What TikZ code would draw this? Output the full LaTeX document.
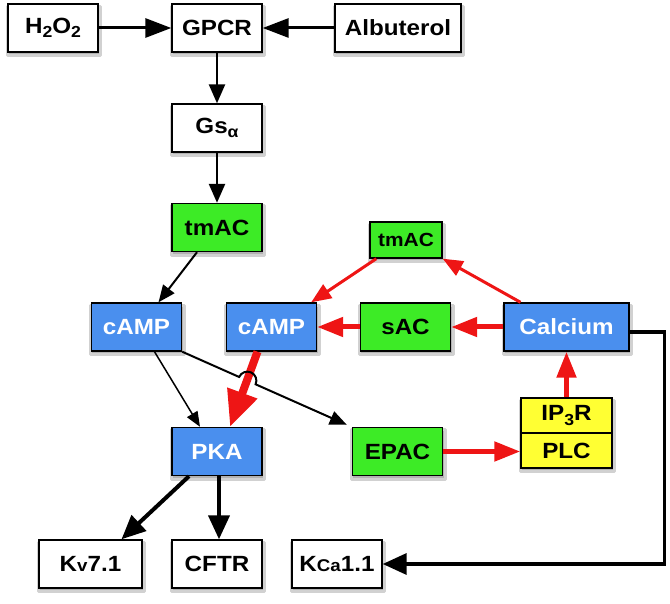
\documentclass[tikz,border=0pt]{standalone}
\usepackage{fontspec}
\setmainfont{Liberation Sans}[FakeStretch=1.1]
\usetikzlibrary{arrows.meta,calc,backgrounds}
\definecolor{gbox}{HTML}{3DEB26}
\definecolor{bbox}{HTML}{4A8FEE}
\definecolor{ybox}{HTML}{FFFF33}
\definecolor{rarr}{HTML}{EE1515}
\newcommand{\lowsub}[1]{\raisebox{-4.5pt}{\fontsize{16}{16}\selectfont #1}}
\begin{document}
\begin{tikzpicture}[x=1pt,y=-1pt,
 box/.style={draw=black, line width=1.4pt, fill=white, minimum width=90pt, minimum height=48pt, inner sep=0pt,
   font=\fontsize{22}{26}\selectfont\bfseries},
 gbx/.style={box, fill=gbox},
 bbx/.style={box, fill=bbox, text=white},
 ybx/.style={box, fill=ybox},
 shd/.style={fill=black!30, draw=black!18, line width=3pt, line join=round},
 ka/.style={draw=black, line width=3pt, -{Triangle[length=26pt,width=19pt]}},
 kb/.style={draw=black, line width=2.5pt, -{Triangle[length=19pt,width=16pt]}},
 kc/.style={draw=black, line width=2pt, -{Triangle[length=17pt,width=14pt]}},
 kd/.style={draw=black, line width=1.5pt, -{Triangle[length=15pt,width=12pt]}},
 ke/.style={draw=black, line width=4pt, -{Triangle[length=24pt,width=21pt]}},
 ra/.style={draw=rarr, line width=8pt, -{Triangle[length=36pt,width=30pt]}},
 rb/.style={draw=rarr, line width=5pt, -{Triangle[length=26pt,width=19pt]}},
 rc/.style={draw=rarr, line width=3pt, -{Triangle[length=20pt,width=16pt]}},
]
\useasboundingbox (0,0) rectangle (670,604);
% nodes
\node[box] (h2o2) at (53,28) {H\lowsub{2}O\lowsub{2}};
\node[box] (gpcr) at (217,28) {GPCR};
\node[box, minimum width=126pt] (alb) at (398,28) {Albuterol};
\node[box] (gs) at (217,128) {Gs\lowsub{α}};
\node[gbx] (tm1) at (217,227.5) {tmAC};
\node[bbx] (c1) at (136.5,327) {cAMP};
\node[bbx] (c2) at (271.5,327) {cAMP};
\node[gbx] (sac) at (405.5,327) {sAC};
\node[bbx, minimum width=125pt] (ca) at (566.5,327) {Calcium};
\node[gbx, minimum width=72pt, minimum height=36pt, font=\fontsize{19}{22}\selectfont\bfseries] (tm2) at (406,240) {tmAC};
\node[ybx, minimum width=91pt, minimum height=35pt] (ip) at (566.5,415.5) {IP\lowsub{3}R};
\node[ybx, minimum width=91pt, minimum height=35pt] (plc) at (566.5,450.5) {PLC};
\node[bbx] (pka) at (217,451.5) {PKA};
\node[gbx] (epac) at (397.5,451.5) {EPAC};
\node[box, minimum width=103pt] (kv) at (90.5,564) {K{\fontsize{17}{17}\selectfont v}7.1};
\node[box] (cftr) at (217,564) {CFTR};
\node[box] (kca) at (337,564) {K{\fontsize{17}{17}\selectfont Ca}1.1};
% shadows
\begin{scope}[on background layer]
\foreach \n in {h2o2,gpcr,alb,gs,tm1,c1,c2,sac,ca,tm2,ip,plc,pka,epac,kv,cftr,kca}
  \path[shd] ([shift={(0pt,-3pt)}]\n.south west) rectangle ([shift={(2pt,-3pt)}]\n.north east);
\end{scope}
% black arrows top
\draw[ka] (h2o2) -- (gpcr);
\draw[ka] (alb) -- (gpcr);
\draw[kb] (gpcr) -- (gs);
\draw[kb] (gs) -- (tm1);
\draw[kc] ([xshift=-20pt]tm1.south) -- ([xshift=22pt]c1.north);
\draw[kd] ([xshift=18pt]c1.south) -- ([xshift=-17pt]pka.north);
% red arrows
\draw[ra] ([xshift=-14pt]c2.south) -- ([xshift=13pt]pka.north);
\draw[rc] ([xshift=-46pt]ca.north) -- (tm2.south east);
\draw[rc] ([xshift=7pt]tm2.south west) -- ([xshift=-6pt]c2.north east);
\draw[rb] (ca) -- (sac);
\draw[rb] (sac) -- (c2);
\draw[rb] (epac.east) -- (epac.east -| plc.west);
\draw[rb] (ip.north) -- (ca.south);
% hop line cAMP -> EPAC
\coordinate (hA) at (c1.south east);
\coordinate (hB) at ([xshift=-5pt,yshift=2pt]epac.north west);
\draw[kc] let \p1=($(hB)-(hA)$), \n1={atan2(\y1,\x1)} in
  (hA) -- ($(hA)!0.396!(hB)!9pt!(hA)$) arc[start angle=\n1+180, end angle=\n1, radius=9pt] -- (hB);
% bottom
\draw[ke] ([xshift=-28pt]pka.south) -- ([xshift=31pt]kv.north);
\draw[ke] ([xshift=2pt]pka.south) -- ([xshift=2pt]cftr.north);
\draw[ke, line width=3.5pt] ([yshift=-5pt]ca.east) -- ([xshift=35pt,yshift=-5pt]ca.east) |- (kca.east);
\end{tikzpicture}
\end{document}
